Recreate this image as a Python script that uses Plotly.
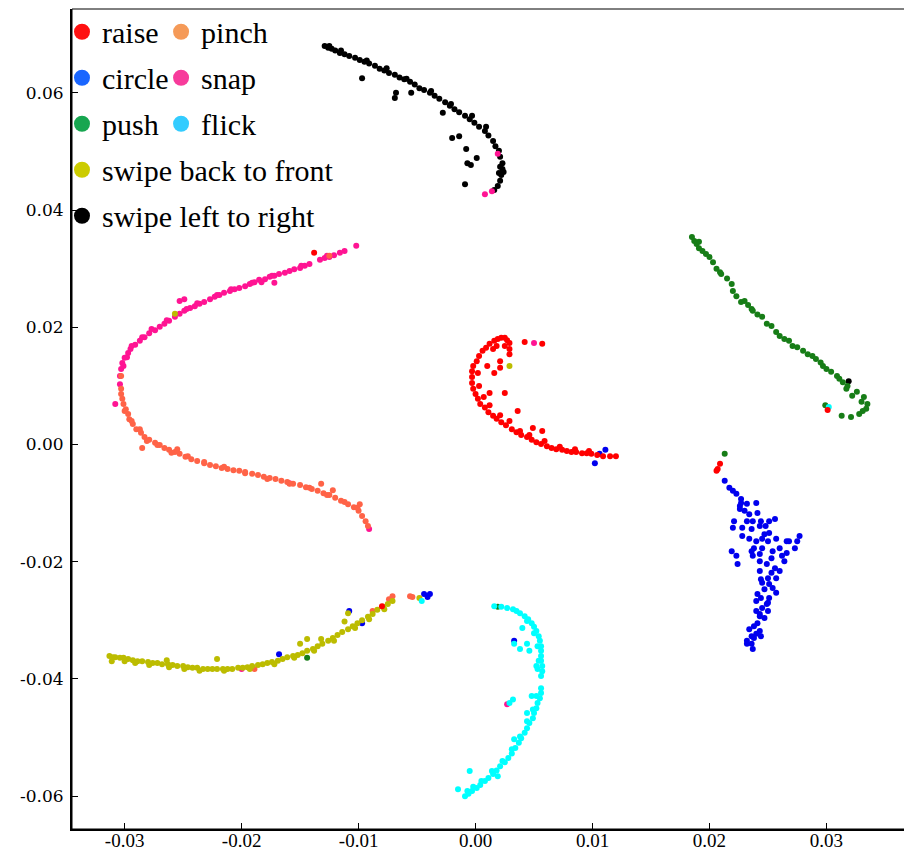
import plotly.graph_objects as go

# ---------------- data (embedding coordinates) ----------------
gestures = ["raise", "pinch", "circle", "snap", "push", "flick",
            "swipe back to front", "swipe left to right"]

raise_pts = [
    (0.0012, 0.0172), (0.0016, 0.0177), (0.0019, 0.0180), (0.0022, 0.0182), (0.0025, 0.0182),
    (0.0027, 0.0178), (0.0029, 0.0173), (0.0018, 0.0168), (0.0015, 0.0163), (0.0025, 0.0168),
    (0.0029, 0.0163), (0.0042, 0.0175), (0.0057, 0.0172),
    (0.0009, 0.0165), (0.0006, 0.0160), (0.0003, 0.0151), (0.0001, 0.0142), (-0.0002, 0.0134),
    (-0.0003, 0.0125), (-0.0003, 0.0115), (-0.0003, 0.0105), (-0.0002, 0.0095), (0.0000, 0.0086),
    (0.0002, 0.0078), (0.0004, 0.0069), (0.0008, 0.0063), (0.0011, 0.0055), (0.0015, 0.0049),
    (0.0018, 0.0044), (0.0022, 0.0038), (0.0026, 0.0033), (0.0031, 0.0026), (0.0035, 0.0021),
    (0.0039, 0.0016), (0.0044, 0.0013), (0.0048, 0.0008), (0.0052, 0.0004), (0.0056, 0.0001),
    (0.0061, -0.0003), (0.0065, -0.0006), (0.0069, -0.0008), (0.0074, -0.0009), (0.0078, -0.0011),
    (0.0082, -0.0013), (0.0086, -0.0013), (0.0091, -0.0015), (0.0095, -0.0015), (0.0099, -0.0016),
    (0.0104, -0.0018), (0.0109, -0.0020), (0.0115, -0.0020), (0.0120, -0.0020),
    (0.0002, 0.0122), (0.0003, 0.0100), (0.0007, 0.0081), (0.0012, 0.0067), (0.0021, 0.0050),
    (0.0029, 0.0040), (0.0038, 0.0023), (0.0046, 0.0016), (0.0059, 0.0006), (0.0072, -0.0004),
    (0.0085, -0.0008), (0.0097, -0.0011),
    (0.0021, 0.0142), (0.0029, 0.0154), (0.0021, 0.0131), (0.0016, 0.0122), (0.0012, 0.0088),
    (0.0036, 0.0057), (0.0057, 0.0023), (0.0049, 0.0028), (0.0010, 0.0134), (0.0025, 0.0088),
    (0.0209, -0.0033), (0.0206, -0.0045), (0.0207, -0.0042), (-0.0138, 0.0327), (-0.0080, -0.0276),
    (0.0301, 0.0059),
]

circle_pts = [
    (0.0213, -0.0062), (0.0217, -0.0074), (0.0223, -0.0084), (0.0227, -0.0093), (0.0232, -0.0101),
    (0.0230, -0.0113), (0.0234, -0.0119), (0.0240, -0.0100), (0.0241, -0.0117), (0.0237, -0.0131),
    (0.0244, -0.0131), (0.0251, -0.0131), (0.0256, -0.0127), (0.0221, -0.0131), (0.0220, -0.0142),
    (0.0228, -0.0142), (0.0236, -0.0144), (0.0228, -0.0156), (0.0234, -0.0161), (0.0245, -0.0161),
    (0.0251, -0.0151), (0.0250, -0.0165), (0.0257, -0.0161), (0.0260, -0.0177), (0.0268, -0.0165),
    (0.0275, -0.0165), (0.0277, -0.0156), (0.0273, -0.0177), (0.0266, -0.0185), (0.0262, -0.0190),
    (0.0254, -0.0182), (0.0245, -0.0177), (0.0238, -0.0177), (0.0237, -0.0190), (0.0243, -0.0199),
    (0.0249, -0.0204), (0.0219, -0.0182), (0.0223, -0.0190), (0.0224, -0.0204), (0.0243, -0.0216),
    (0.0253, -0.0219), (0.0260, -0.0216), (0.0257, -0.0228), (0.0251, -0.0238), (0.0247, -0.0247),
    (0.0254, -0.0245), (0.0257, -0.0253), (0.0244, -0.0262), (0.0251, -0.0262), (0.0240, -0.0267),
    (0.0245, -0.0279), (0.0240, -0.0284), (0.0250, -0.0284), (0.0247, -0.0296), (0.0241, -0.0305),
    (0.0243, -0.0318), (0.0240, -0.0323), (0.0234, -0.0315), (0.0232, -0.0335), (0.0236, -0.0340),
    (0.0238, -0.0330), (0.0244, -0.0327), (0.0237, -0.0349),
    (0.0226, -0.0110), (0.0248, -0.0139), (0.0264, -0.0199), (0.0244, -0.0230), (0.0250, -0.0270),
    (0.0243, -0.0293), (0.0226, -0.0105), (0.0232, -0.0131), (0.0243, -0.0139), (0.0247, -0.0153),
    (0.0240, -0.0165), (0.0236, -0.0182), (0.0243, -0.0187), (0.0253, -0.0194), (0.0266, -0.0165),
    (0.0256, -0.0211), (0.0250, -0.0228), (0.0245, -0.0236), (0.0241, -0.0255), (0.0249, -0.0272),
    (0.0243, -0.0289), (0.0238, -0.0310), (0.0236, -0.0327), (0.0232, -0.0340), (0.0227, -0.0100),
    (0.0220, -0.0079),
    (0.0106, -0.0016), (0.0111, -0.0009), (0.0102, -0.0032), (-0.0108, -0.0284), (-0.0097, -0.0305),
    (-0.0168, -0.0358), (-0.0044, -0.0255), (-0.0039, -0.0255), (-0.0041, -0.0260), (0.0033, -0.0335),
]

push_pts = [
    (0.0185, 0.0354), (0.0189, 0.0342), (0.0191, 0.0346), (0.0187, 0.0347), (0.0191, 0.0335),
    (0.0197, 0.0325), (0.0200, 0.0320), (0.0203, 0.0311), (0.0209, 0.0294), (0.0210, 0.0291),
    (0.0219, 0.0274), (0.0220, 0.0262), (0.0223, 0.0253), (0.0227, 0.0243), (0.0230, 0.0245),
    (0.0236, 0.0231), (0.0237, 0.0228), (0.0245, 0.0218), (0.0249, 0.0206), (0.0253, 0.0202),
    (0.0257, 0.0192), (0.0260, 0.0185), (0.0268, 0.0177), (0.0271, 0.0168), (0.0275, 0.0166),
    (0.0284, 0.0154), (0.0288, 0.0151), (0.0291, 0.0146), (0.0297, 0.0134), (0.0300, 0.0129),
    (0.0304, 0.0124), (0.0309, 0.0117), (0.0311, 0.0112), (0.0317, 0.0095), (0.0318, 0.0100),
    (0.0322, 0.0083), (0.0326, 0.0090), (0.0330, 0.0073), (0.0332, 0.0081), (0.0335, 0.0069),
    (0.0334, 0.0061), (0.0331, 0.0057), (0.0328, 0.0052), (0.0321, 0.0047), (0.0313, 0.0049),
    (0.0299, 0.0067), (0.0194, 0.0330), (0.0206, 0.0300), (0.0215, 0.0283), (0.0233, 0.0238),
    (0.0241, 0.0222), (0.0264, 0.0180), (0.0280, 0.0160), (0.0295, 0.0140), (0.0314, 0.0106),
    (0.0213, -0.0016), (-0.0144, -0.0364), (0.0019, -0.0277),
]

pinch_pts = [
    (-0.0303, 0.0095), (-0.0303, 0.0086), (-0.0302, 0.0078), (-0.0301, 0.0069), (-0.0299, 0.0060),
    (-0.0297, 0.0052), (-0.0296, 0.0043), (-0.0293, 0.0035), (-0.0290, 0.0026), (-0.0286, 0.0020),
    (-0.0283, 0.0013), (-0.0279, 0.0008), (-0.0274, 0.0003), (-0.0270, -0.0001), (-0.0266, -0.0006),
    (-0.0262, -0.0009), (-0.0257, -0.0013), (-0.0253, -0.0016), (-0.0248, -0.0021), (-0.0243, -0.0025),
    (-0.0238, -0.0028), (-0.0232, -0.0032), (-0.0227, -0.0035), (-0.0222, -0.0037), (-0.0217, -0.0040),
    (-0.0212, -0.0042), (-0.0207, -0.0044), (-0.0202, -0.0045), (-0.0197, -0.0049), (-0.0191, -0.0050),
    (-0.0186, -0.0052), (-0.0181, -0.0055), (-0.0176, -0.0057), (-0.0171, -0.0059), (-0.0166, -0.0062),
    (-0.0161, -0.0064), (-0.0156, -0.0067), (-0.0150, -0.0069), (-0.0145, -0.0073), (-0.0140, -0.0076),
    (-0.0135, -0.0079), (-0.0130, -0.0083), (-0.0125, -0.0086), (-0.0120, -0.0091), (-0.0115, -0.0096),
    (-0.0109, -0.0102), (-0.0104, -0.0107), (-0.0100, -0.0113), (-0.0097, -0.0122), (-0.0094, -0.0131),
    (-0.0092, -0.0139),
    (-0.0300, 0.0057), (-0.0294, 0.0040), (-0.0287, 0.0026), (-0.0281, 0.0006), (-0.0272, -0.0001),
    (-0.0260, -0.0014), (-0.0246, -0.0020), (-0.0232, -0.0030), (-0.0215, -0.0038), (-0.0197, -0.0047),
    (-0.0178, -0.0059), (-0.0159, -0.0067), (-0.0142, -0.0074), (-0.0127, -0.0086), (-0.0112, -0.0098),
    (-0.0101, -0.0108),
    (-0.0285, -0.0006), (-0.0132, -0.0067), (-0.0122, -0.0078), (-0.0099, -0.0102), (-0.0255, -0.0008),
    (-0.0303, 0.0117), (-0.0125, 0.0322), (-0.0189, -0.0383), (-0.0088, -0.0284), (-0.0074, -0.0264),
    (-0.0071, -0.0259), (-0.0056, -0.0259), (-0.0054, -0.0260),
]

snap_pts = [
    (-0.0304, 0.0103), (-0.0304, 0.0117), (-0.0303, 0.0129), (-0.0302, 0.0139), (-0.0300, 0.0148),
    (-0.0297, 0.0156), (-0.0295, 0.0163), (-0.0291, 0.0170), (-0.0287, 0.0177), (-0.0283, 0.0183),
    (-0.0279, 0.0190), (-0.0274, 0.0195), (-0.0270, 0.0201), (-0.0266, 0.0206), (-0.0262, 0.0211),
    (-0.0257, 0.0218), (-0.0253, 0.0223), (-0.0249, 0.0228), (-0.0244, 0.0233), (-0.0240, 0.0236),
    (-0.0236, 0.0240), (-0.0232, 0.0243), (-0.0227, 0.0248), (-0.0223, 0.0252), (-0.0219, 0.0255),
    (-0.0215, 0.0259), (-0.0210, 0.0262), (-0.0206, 0.0265), (-0.0202, 0.0267), (-0.0197, 0.0270),
    (-0.0193, 0.0274), (-0.0189, 0.0277), (-0.0185, 0.0281), (-0.0180, 0.0282), (-0.0176, 0.0286),
    (-0.0172, 0.0288), (-0.0168, 0.0291), (-0.0163, 0.0293), (-0.0159, 0.0296), (-0.0155, 0.0299),
    (-0.0150, 0.0301), (-0.0146, 0.0305), (-0.0142, 0.0308), (-0.0133, 0.0315), (-0.0129, 0.0318),
    (-0.0125, 0.0320), (-0.0121, 0.0323), (-0.0116, 0.0327), (-0.0112, 0.0330), (-0.0102, 0.0339),
    (-0.0301, 0.0134), (-0.0298, 0.0149), (-0.0294, 0.0168), (-0.0285, 0.0183), (-0.0277, 0.0197),
    (-0.0264, 0.0212), (-0.0247, 0.0231), (-0.0238, 0.0241), (-0.0221, 0.0255), (-0.0209, 0.0265),
    (-0.0191, 0.0276), (-0.0174, 0.0288), (-0.0149, 0.0305), (-0.0127, 0.0322),
    (-0.0253, 0.0245), (-0.0249, 0.0248), (-0.0172, 0.0276), (-0.0183, 0.0277),
    (0.0008, 0.0427), (0.0014, 0.0432), (0.0019, 0.0496), (0.0050, 0.0173), (-0.0308, 0.0069),
    (-0.0091, -0.0144), (-0.0159, -0.0066), (-0.0200, -0.0383), (0.0027, -0.0443),
]

flick_pts = [
    (0.0016, -0.0276), (0.0022, -0.0277), (0.0027, -0.0279), (0.0032, -0.0281), (0.0035, -0.0284),
    (0.0038, -0.0288), (0.0042, -0.0293), (0.0045, -0.0298), (0.0048, -0.0305), (0.0050, -0.0311),
    (0.0052, -0.0318), (0.0054, -0.0327), (0.0055, -0.0335), (0.0056, -0.0344), (0.0056, -0.0352),
    (0.0056, -0.0361), (0.0056, -0.0369), (0.0057, -0.0378), (0.0057, -0.0387), (0.0056, -0.0395),
    (0.0056, -0.0416), (0.0056, -0.0424), (0.0055, -0.0433), (0.0053, -0.0441), (0.0052, -0.0450),
    (0.0050, -0.0458), (0.0049, -0.0467), (0.0046, -0.0475), (0.0044, -0.0484), (0.0042, -0.0492),
    (0.0039, -0.0501), (0.0037, -0.0509), (0.0034, -0.0518), (0.0031, -0.0527), (0.0028, -0.0535),
    (0.0025, -0.0542), (0.0021, -0.0549), (0.0018, -0.0556), (0.0015, -0.0562), (0.0011, -0.0569),
    (0.0008, -0.0574), (0.0004, -0.0581), (0.0001, -0.0586), (-0.0003, -0.0591), (-0.0006, -0.0596),
    (-0.0009, -0.0600),
    (0.0044, -0.0301), (0.0050, -0.0322), (0.0053, -0.0344), (0.0054, -0.0369), (0.0053, -0.0383),
    (0.0052, -0.0429), (0.0049, -0.0452), (0.0044, -0.0472), (0.0038, -0.0498), (0.0031, -0.0520),
    (0.0023, -0.0540), (0.0014, -0.0557), (0.0005, -0.0574), (-0.0002, -0.0584), (-0.0007, -0.0591),
    (-0.0015, -0.0588), (-0.0005, -0.0557), (0.0033, -0.0503), (0.0032, -0.0435), (0.0029, -0.0441),
    (0.0048, -0.0429), (0.0044, -0.0458), (0.0033, -0.0340), (0.0038, -0.0349), (0.0044, -0.0340),
    (0.0046, -0.0352), (0.0040, -0.0313), (0.0052, -0.0378), (0.0019, -0.0566),
    (0.0302, 0.0064), (-0.0046, -0.0267),
]

swipe_b2f_pts = [
    (-0.0313, -0.0361), (-0.0310, -0.0363), (-0.0308, -0.0363), (-0.0304, -0.0364), (-0.0301, -0.0364),
    (-0.0297, -0.0366), (-0.0293, -0.0368), (-0.0289, -0.0370), (-0.0285, -0.0370), (-0.0280, -0.0371),
    (-0.0276, -0.0373), (-0.0272, -0.0373), (-0.0268, -0.0375), (-0.0263, -0.0375), (-0.0259, -0.0376),
    (-0.0255, -0.0378), (-0.0250, -0.0378), (-0.0246, -0.0380), (-0.0242, -0.0381), (-0.0238, -0.0381),
    (-0.0233, -0.0383), (-0.0229, -0.0383), (-0.0225, -0.0383), (-0.0221, -0.0383), (-0.0216, -0.0383),
    (-0.0212, -0.0383), (-0.0208, -0.0383), (-0.0203, -0.0381), (-0.0199, -0.0381), (-0.0195, -0.0380),
    (-0.0191, -0.0378), (-0.0186, -0.0376), (-0.0182, -0.0375), (-0.0178, -0.0373), (-0.0174, -0.0371),
    (-0.0169, -0.0369), (-0.0165, -0.0366), (-0.0161, -0.0363), (-0.0156, -0.0361), (-0.0152, -0.0359),
    (-0.0148, -0.0356), (-0.0144, -0.0352), (-0.0139, -0.0349), (-0.0135, -0.0344), (-0.0131, -0.0340),
    (-0.0126, -0.0335), (-0.0122, -0.0330), (-0.0118, -0.0325), (-0.0114, -0.0320), (-0.0109, -0.0315),
    (-0.0105, -0.0310), (-0.0101, -0.0305), (-0.0097, -0.0300), (-0.0092, -0.0294), (-0.0088, -0.0289),
    (-0.0084, -0.0282), (-0.0079, -0.0277), (-0.0075, -0.0272), (-0.0071, -0.0267),
    (-0.0311, -0.0370), (-0.0300, -0.0370), (-0.0291, -0.0373), (-0.0279, -0.0376), (-0.0262, -0.0380),
    (-0.0249, -0.0383), (-0.0236, -0.0386), (-0.0215, -0.0386), (-0.0193, -0.0383), (-0.0172, -0.0375),
    (-0.0155, -0.0364), (-0.0138, -0.0352), (-0.0121, -0.0335), (-0.0103, -0.0313), (-0.0091, -0.0298),
    (-0.0078, -0.0281),
    (-0.0221, -0.0366), (-0.0264, -0.0368), (-0.0144, -0.0332), (-0.0150, -0.0340), (-0.0132, -0.0332),
    (-0.0109, -0.0288), (-0.0048, -0.0262), (-0.0112, -0.0302),
    (0.0029, 0.0134), (-0.0257, 0.0223),
]

swipe_l2r_pts = [
    (-0.0129, 0.0680), (-0.0126, 0.0677), (-0.0123, 0.0675), (-0.0120, 0.0672), (-0.0116, 0.0668),
    (-0.0112, 0.0666), (-0.0108, 0.0663), (-0.0103, 0.0660), (-0.0099, 0.0656), (-0.0095, 0.0653),
    (-0.0091, 0.0650), (-0.0086, 0.0646), (-0.0082, 0.0641), (-0.0078, 0.0638), (-0.0074, 0.0634),
    (-0.0069, 0.0631), (-0.0065, 0.0626), (-0.0061, 0.0623), (-0.0056, 0.0619), (-0.0052, 0.0614),
    (-0.0048, 0.0608), (-0.0044, 0.0605), (-0.0039, 0.0600), (-0.0035, 0.0595), (-0.0031, 0.0590),
    (-0.0026, 0.0584), (-0.0022, 0.0578), (-0.0018, 0.0572), (-0.0014, 0.0567), (-0.0009, 0.0561),
    (-0.0005, 0.0555), (-0.0001, 0.0549), (0.0003, 0.0542), (0.0008, 0.0535), (0.0011, 0.0527),
    (0.0015, 0.0518), (0.0017, 0.0509), (0.0020, 0.0501), (0.0021, 0.0491), (0.0023, 0.0480),
    (0.0023, 0.0470), (0.0022, 0.0460), (0.0021, 0.0450), (0.0019, 0.0441), (0.0016, 0.0434),
    (0.0021, 0.0474), (0.0020, 0.0463), (0.0024, 0.0465),
    (-0.0125, 0.0680), (-0.0115, 0.0672), (-0.0093, 0.0655), (-0.0076, 0.0642), (-0.0059, 0.0624),
    (-0.0038, 0.0603), (-0.0021, 0.0581), (-0.0003, 0.0561), (0.0009, 0.0542),
    (-0.0097, 0.0625), (-0.0068, 0.0600), (-0.0069, 0.0591), (-0.0055, 0.0600), (-0.0028, 0.0566),
    (-0.0020, 0.0523), (-0.0014, 0.0526), (-0.0008, 0.0504), (-0.0007, 0.0480), (0.0001, 0.0489),
    (-0.0009, 0.0444), (-0.0004, 0.0477),
    (0.0319, 0.0108),
]

point_sets = {
    "raise": raise_pts, "pinch": pinch_pts, "circle": circle_pts, "snap": snap_pts,
    "push": push_pts, "flick": flick_pts,
    "swipe back to front": swipe_b2f_pts, "swipe left to right": swipe_l2r_pts,
}

point_colors = {
    "raise": "#ff0000", "pinch": "#ff6347", "circle": "#0000ee", "snap": "#ff1493",
    "push": "#177d17", "flick": "#00ffff",
    "swipe back to front": "#bcbc00", "swipe left to right": "#000000",
}
legend_colors = {
    "raise": "#ff1010", "pinch": "#f59a58", "circle": "#1a66ff", "snap": "#f73b9b",
    "push": "#17a650", "flick": "#33ccff",
    "swipe back to front": "#cccc00", "swipe left to right": "#000000",
}
legend_col1 = ["raise", "circle", "push", "swipe back to front", "swipe left to right"]
legend_col2 = ["pinch", "snap", "flick"]

x_tick_vals = [-0.03, -0.02, -0.01, 0.00, 0.01, 0.02, 0.03]
x_tick_text = ["-0.03", "-0.02", "-0.01", "0.00", "0.01", "0.02", "0.03"]
y_tick_vals = [-0.06, -0.04, -0.02, 0.00, 0.02, 0.04, 0.06]
y_tick_text = ["-0.06", "-0.04", "-0.02", "0.00", "0.02", "0.04", "0.06"]

SERIF = "'Liberation Serif', 'Times New Roman', Times, serif"
WIDE_SERIF = "'DejaVu Serif', serif"

# ---------------- figure ----------------
fig = go.Figure()

draw_order = ["swipe left to right", "push", "circle", "snap", "pinch",
              "swipe back to front", "flick", "raise"]
for g in draw_order:
    pts = point_sets[g]
    fig.add_trace(go.Scatter(
        x=[p[0] for p in pts], y=[p[1] for p in pts], mode="markers",
        marker=dict(size=6, color=point_colors[g], line=dict(width=0)),
        name=g, showlegend=False, hoverinfo="skip",
    ))

# legend entries (no data points, larger symbols)
for col, leg in ((legend_col1, "legend"), (legend_col2, "legend2")):
    for g in col:
        fig.add_trace(go.Scatter(
            x=[None], y=[None], mode="markers",
            marker=dict(size=16, color=legend_colors[g]),
            name=g, legend=leg, showlegend=True, legendgroup=g,
        ))

legend_common = dict(
    y=1.004, yanchor="top", xanchor="left", bgcolor="rgba(0,0,0,0)", borderwidth=0,
    font=dict(family=SERIF, size=30, color="black"),
    itemwidth=30, tracegroupgap=4, traceorder="grouped",
)

# the page body adds an 8 px offset, so the figure is sized to fill the rest of the window
fig.update_layout(
    template="none",
    width=904, height=847,
    margin=dict(l=64, r=6, t=1, b=26, autoexpand=False),
    paper_bgcolor="white", plot_bgcolor="white",
    legend=dict(x=-0.012, **legend_common),
    legend2=dict(x=0.1068, **legend_common),
    xaxis=dict(
        range=[-0.0345, 0.0368], tickvals=x_tick_vals, ticktext=x_tick_text,
        ticks="inside", ticklen=6, tickwidth=1, tickcolor="black",
        showline=True, linecolor="black", linewidth=2, mirror=False,
        showgrid=False, zeroline=False, automargin=False, ticklabelstandoff=-7,
        tickfont=dict(family=SERIF, size=19, color="black"),
    ),
    yaxis=dict(
        range=[-0.0656, 0.0743], tickvals=y_tick_vals, ticktext=y_tick_text,
        ticks="inside", ticklen=6, tickwidth=1, tickcolor="black",
        showline=True, linecolor="black", linewidth=2, mirror=False,
        showgrid=False, zeroline=False, ticklabelstandoff=3, automargin=False,
        tickfont=dict(family=WIDE_SERIF, size=17, color="black"),
    ),
    shapes=[dict(type="rect", xref="paper", yref="paper", x0=0, y0=0, x1=1, y1=1,
                 line=dict(color="black", width=1), fillcolor="rgba(0,0,0,0)", layer="above")],
)

fig.write_html("out.html")
